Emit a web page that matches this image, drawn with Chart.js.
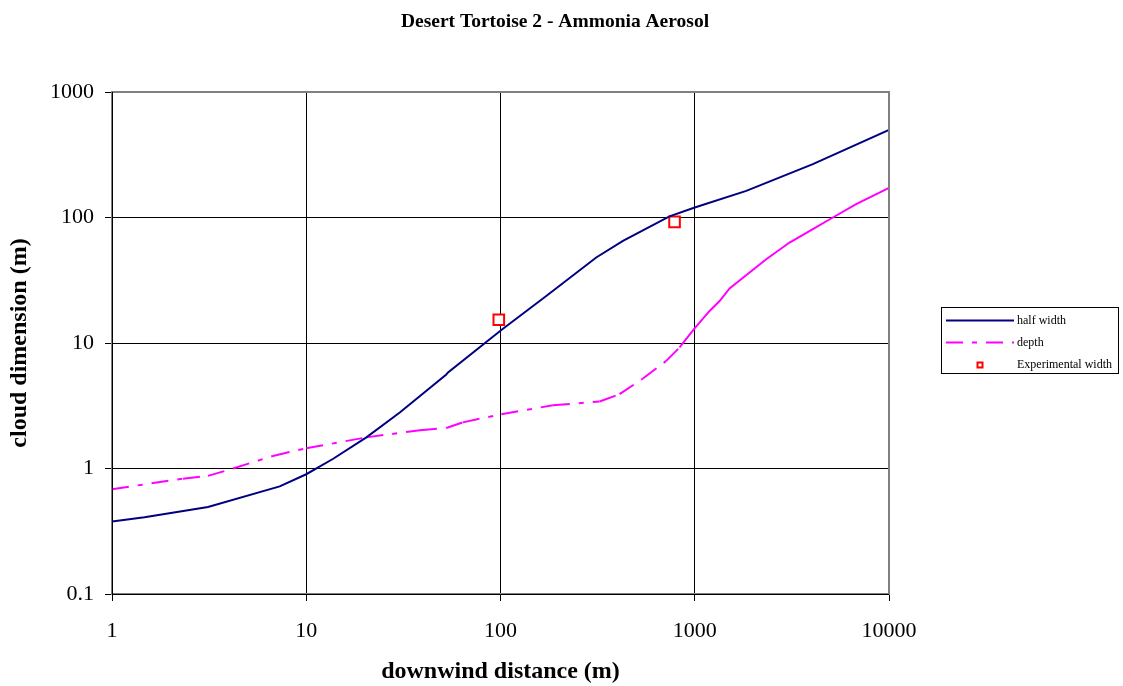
<!DOCTYPE html>
<html><head><meta charset="utf-8">
<script src="https://cdn.jsdelivr.net/npm/chart.js@4.4.1/dist/chart.umd.min.js"></script>
<style>html,body{margin:0;padding:0;background:#fff}#wrap{width:1123px;height:686px}</style>
</head><body><div id="wrap"><canvas id="c" width="1123" height="686"></canvas></div>
<script>
const chartTitle = 'Desert Tortoise 2 - Ammonia Aerosol';
const xAxisTitle = 'downwind distance (m)';
const yAxisTitle = 'cloud dimension (m)';
const seriesNames = ['half width', 'depth', 'Experimental width'];
const xTickValues = [1, 10, 100, 1000, 10000];
const xTickLabels = ['1', '10', '100', '1000', '10000'];
const yTickValues = [0.1, 1, 10, 100, 1000];
const yTickLabels = ['0.1', '1', '10', '100', '1000'];

const halfWidthX = [1, 1.47, 3.12, 7.3, 10, 13.7, 20.4, 30.3, 52.6, 53.5, 101, 172, 311, 427, 741, 1000, 1841, 4056, 10000];
const halfWidthY = [0.378, 0.409, 0.494, 0.72, 0.90, 1.19, 1.77, 2.79, 5.60, 5.80, 12.7, 23.7, 48, 65, 102, 120, 163, 266, 499];

const depthX = [1, 2.32, 3.12, 4.2, 6.74, 10, 20.4, 38.5, 52.6, 64, 101, 186, 324, 410, 541, 713, 835, 998, 1192, 1342, 1511, 1915, 2334, 3076, 4055, 5140, 6776, 10000];
const depthY = [0.684, 0.83, 0.873, 1.0, 1.26, 1.45, 1.77, 2.02, 2.10, 2.33, 2.71, 3.19, 3.42, 3.91, 5.21, 7.20, 9.21, 13.1, 18.0, 21.6, 27.2, 36.5, 46.5, 63.2, 80.7, 100, 127.6, 172];

const expX = [98, 787];
const expY = [15.3, 92.2];

const toPts = (xs, ys) => xs.map((x, i) => ({x: x, y: ys[i]}));
const FONT = "'Liberation Serif', 'Times New Roman', serif";
const dashA = [17, 9, 5, 9];
const dashB = [17, 9, 5, 9.0001];

const framePlugin = {
  id: 'frame',
  afterDatasetsDraw(chart) {
    const {ctx, chartArea: a} = chart;
    ctx.save();
    ctx.strokeStyle = '#808080';
    ctx.lineWidth = 2;
    ctx.strokeRect(a.left, a.top, a.right - a.left, a.bottom - a.top);
    ctx.strokeStyle = '#000';
    ctx.lineWidth = 1;
    ctx.beginPath();
    ctx.moveTo(Math.round(a.left) + 0.5, a.top);
    ctx.lineTo(Math.round(a.left) + 0.5, a.bottom + 1);
    ctx.moveTo(a.left, Math.round(a.bottom) + 0.5);
    ctx.lineTo(a.right, Math.round(a.bottom) + 0.5);
    ctx.stroke();
    ctx.restore();
  }
};

const legendPlugin = {
  id: 'boxLegend',
  afterDraw(chart) {
    const ctx = chart.ctx;
    const L = 941.5, T = 307.5, W = 177, H = 66;
    ctx.save();
    ctx.fillStyle = '#fff';
    ctx.fillRect(L, T, W, H);
    ctx.strokeStyle = '#000';
    ctx.lineWidth = 1;
    ctx.strokeRect(L, T, W, H);
    ctx.font = '12px ' + FONT;
    ctx.fillStyle = '#000';
    ctx.textBaseline = 'middle';
    const rows = [320.5, 342.5, 365];
    chart.data.datasets.forEach((ds, i) => {
      const y = rows[i];
      if (ds.showLine) {
        ctx.strokeStyle = ds.borderColor;
        ctx.lineWidth = ds.borderWidth;
        ctx.setLineDash(ds.legendDash || []);
        ctx.beginPath();
        ctx.moveTo(946, y);
        ctx.lineTo(1014, y);
        ctx.stroke();
        ctx.setLineDash([]);
      } else {
        ctx.strokeStyle = ds.borderColor;
        ctx.lineWidth = 2;
        ctx.fillStyle = '#fff';
        ctx.fillRect(977.5, y - 2.5, 5, 5);
        ctx.strokeRect(977.5, y - 2.5, 5, 5);
      }
      ctx.fillStyle = '#000';
      ctx.fillText(ds.label, 1017, y);
    });
    ctx.restore();
  }
};

new Chart(document.getElementById('c'), {
  type: 'scatter',
  data: {
    datasets: [
      {
        label: seriesNames[0],
        data: toPts(halfWidthX, halfWidthY),
        showLine: true,
        borderColor: '#000080',
        backgroundColor: '#000080',
        borderWidth: 2,
        pointRadius: 0,
        tension: 0
      },
      {
        label: seriesNames[1],
        data: toPts(depthX, depthY),
        showLine: true,
        borderColor: '#FF00FF',
        backgroundColor: '#FF00FF',
        borderWidth: 2,
        pointRadius: 0,
        tension: 0,
        legendDash: dashA,
        segment: {
          borderDash: c => (c.p0.parsed.x >= 830 ? [] : (c.p0DataIndex % 2 ? dashA : dashB))
        }
      },
      {
        label: seriesNames[2],
        data: toPts(expX, expY),
        showLine: false,
        borderColor: '#FF0000',
        backgroundColor: '#FFFFFF',
        borderWidth: 2,
        pointStyle: 'rect',
        pointRadius: 7.5,
        pointHoverRadius: 7.5
      }
    ]
  },
  options: {
    responsive: false,
    animation: false,
    devicePixelRatio: 1,
    layout: {padding: {left: 0, right: 13, top: 0, bottom: 0}},
    plugins: {
      legend: {display: false},
      tooltip: {enabled: false},
      title: {
        display: true,
        text: chartTitle,
        color: '#000',
        font: {family: FONT, size: 19.5, weight: 'bold', lineHeight: 1.2},
        padding: {top: 10, bottom: 58.6}
      }
    },
    scales: {
      x: {
        type: 'logarithmic',
        position: 'bottom',
        min: 1,
        max: 10000,
        afterBuildTicks: s => { s.ticks = xTickValues.map(v => ({value: v})); },
        afterFit: s => { s.height = 92; },
        ticks: {
          autoSkip: false,
          maxRotation: 0,
          color: '#000',
          padding: 17,
          font: {family: FONT, size: 22},
          callback: v => { const i = xTickValues.indexOf(v); return i >= 0 ? xTickLabels[i] : ''; }
        },
        grid: {color: '#000', lineWidth: 1, tickLength: 7, drawTicks: true, tickColor: '#000'},
        border: {display: false},
        title: {
          display: true,
          text: xAxisTitle,
          color: '#000',
          font: {family: FONT, size: 24, weight: 'bold', lineHeight: 1.2},
          padding: {top: 0, bottom: 0}
        }
      },
      y: {
        type: 'logarithmic',
        position: 'left',
        min: 0.1,
        max: 1000,
        afterBuildTicks: s => { s.ticks = yTickValues.map(v => ({value: v})); },
        afterFit: s => { s.width = 112; },
        ticks: {
          autoSkip: false,
          color: '#000',
          padding: 11,
          font: {family: FONT, size: 22},
          callback: v => { const i = yTickValues.indexOf(v); return i >= 0 ? yTickLabels[i] : ''; }
        },
        grid: {color: '#000', lineWidth: 1, tickLength: 7, drawTicks: true, tickColor: '#000'},
        border: {display: false},
        title: {
          display: true,
          text: yAxisTitle,
          color: '#000',
          font: {family: FONT, size: 24, weight: 'bold', lineHeight: 1.2},
          padding: {top: 5, bottom: 0}
        }
      },
      legendSpace: {
        type: 'linear',
        position: 'right',
        display: true,
        afterFit: s => { s.width = 221; },
        ticks: {display: false},
        grid: {display: false, drawTicks: false},
        border: {display: false},
        title: {display: false}
      }
    }
  },
  plugins: [framePlugin, legendPlugin]
});
</script>
</body></html>
